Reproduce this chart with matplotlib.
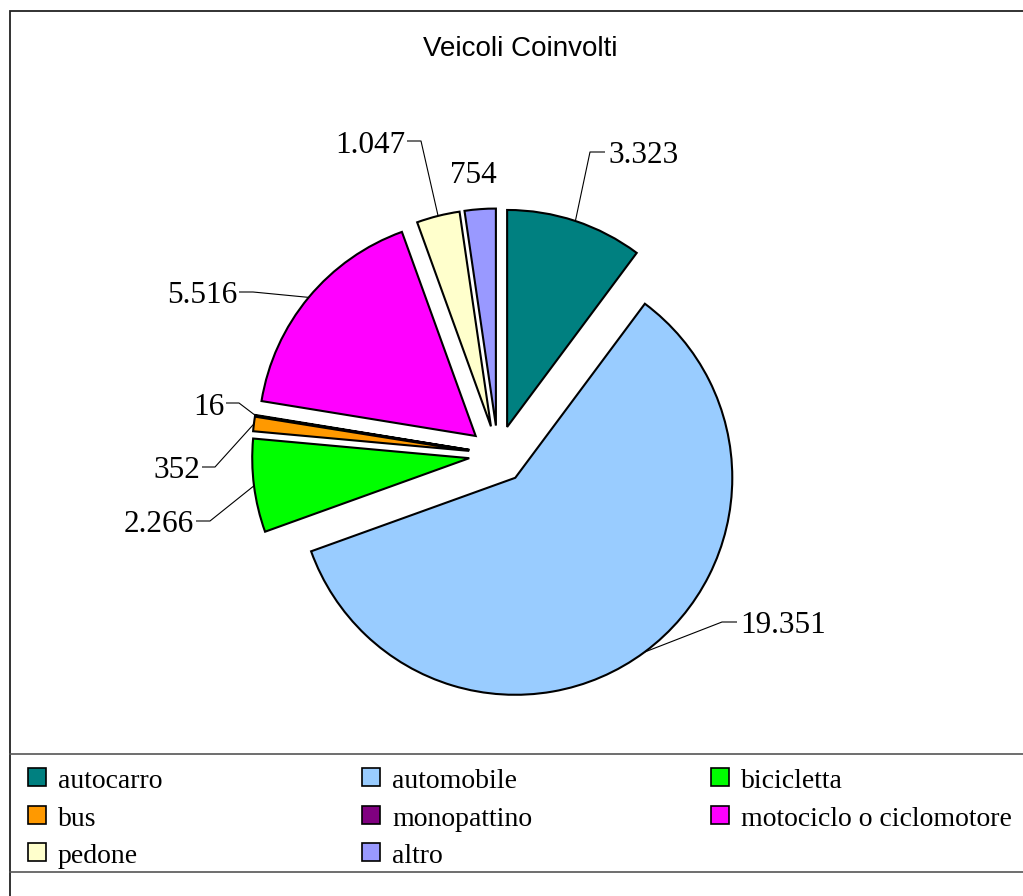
import matplotlib
matplotlib.use("Agg")
import matplotlib.pyplot as plt
import numpy as np
from matplotlib.patches import Rectangle

# ---- data ----
categories = ["autocarro", "automobile", "bicicletta", "bus", "monopattino",
              "motociclo o ciclomotore", "pedone", "altro"]
values = [3323, 19351, 2266, 352, 16, 5516, 1047, 754]
colors = ["#008080", "#99CCFF", "#00FF00", "#FF9900", "#800080",
          "#FF00FF", "#FFFFCC", "#9999FF"]
title = "Veicoli Coinvolti"

# ---- layout ----
W, H = 1023, 896
fig = plt.figure(figsize=(W / 100, H / 100), dpi=100)
ax = fig.add_axes([0, 0, 1, 1])


def Y(y):
    return H - y


SERIF = ["Liberation Serif", "DejaVu Serif"]
SANS = ["Liberation Sans", "DejaVu Sans"]

radius = 217
center = (498, Y(454.5))
explode = [29] * len(values)

wedges, _ = ax.pie(values, colors=colors, startangle=90, counterclock=False,
                   radius=radius, center=center, explode=explode,
                   wedgeprops=dict(edgecolor="black", linewidth=1.5))

ax.set_xlim(0, W)
ax.set_ylim(0, H)
ax.set_aspect("auto")
ax.axis("off")


def fmt(v):
    return f"{v:,}".replace(",", ".")


label_layout = [
    dict(elbow=(590, 152), end=(605, 152), text=(608, 152), ha="left"),
    dict(elbow=(722, 622), end=(737, 622), text=(740, 622), ha="left"),
    dict(elbow=(210, 521), end=(196, 521), text=(194, 521), ha="right"),
    dict(elbow=(215, 467), end=(202, 467), text=(200, 467), ha="right"),
    dict(elbow=(239, 403), end=(226, 403), text=(224, 404), ha="right"),
    dict(elbow=(253, 292), end=(239, 292), text=(237, 292), ha="right"),
    dict(elbow=(421, 141), end=(407, 141), text=(405, 142), ha="right"),
    dict(elbow=None, end=None, text=(473, 172), ha="center"),
]

for w, v, lay in zip(wedges, values, label_layout):
    th = np.deg2rad((w.theta1 + w.theta2) / 2)
    axp = w.center[0] + w.r * np.cos(th)
    ayp = w.center[1] + w.r * np.sin(th)
    if lay["elbow"] is not None:
        ex, ey = lay["elbow"]
        hx, hy = lay["end"]
        ax.plot([axp, ex, hx], [ayp, Y(ey), Y(hy)], color="black", lw=0.8,
                solid_capstyle="butt")
    tx, ty = lay["text"]
    ax.text(tx, Y(ty + 10.5), fmt(v), ha=lay["ha"], va="baseline",
            fontsize=22.5, family=SERIF, color="black")

# title
ax.text(520, Y(56), title, ha="center", va="baseline", fontsize=20,
        family=SANS, color="black")

# outer border and legend separators
ax.add_patch(Rectangle((10, Y(905)), 1030, 905 - 11, fill=False,
                       edgecolor="#222222", lw=1.3, clip_on=False))
for yy in (754, 872):
    ax.plot([10, W + 5], [Y(yy), Y(yy)], color="#555555", lw=1.2)

# legend (row-major, 3 columns)
col_x = [28, 362, 711]
row_y = [777, 815, 852]
for i, (lab, c) in enumerate(zip(categories, colors)):
    x = col_x[i % 3]
    y = row_y[i // 3]
    ax.add_patch(Rectangle((x, Y(y + 9)), 18, 18, facecolor=c,
                           edgecolor="black", lw=1.2))
    ax.text(x + 30, Y(y + 11), lab, ha="left", va="baseline",
            fontsize=20, family=SERIF, color="black")

fig.savefig("out.png", dpi=100)
